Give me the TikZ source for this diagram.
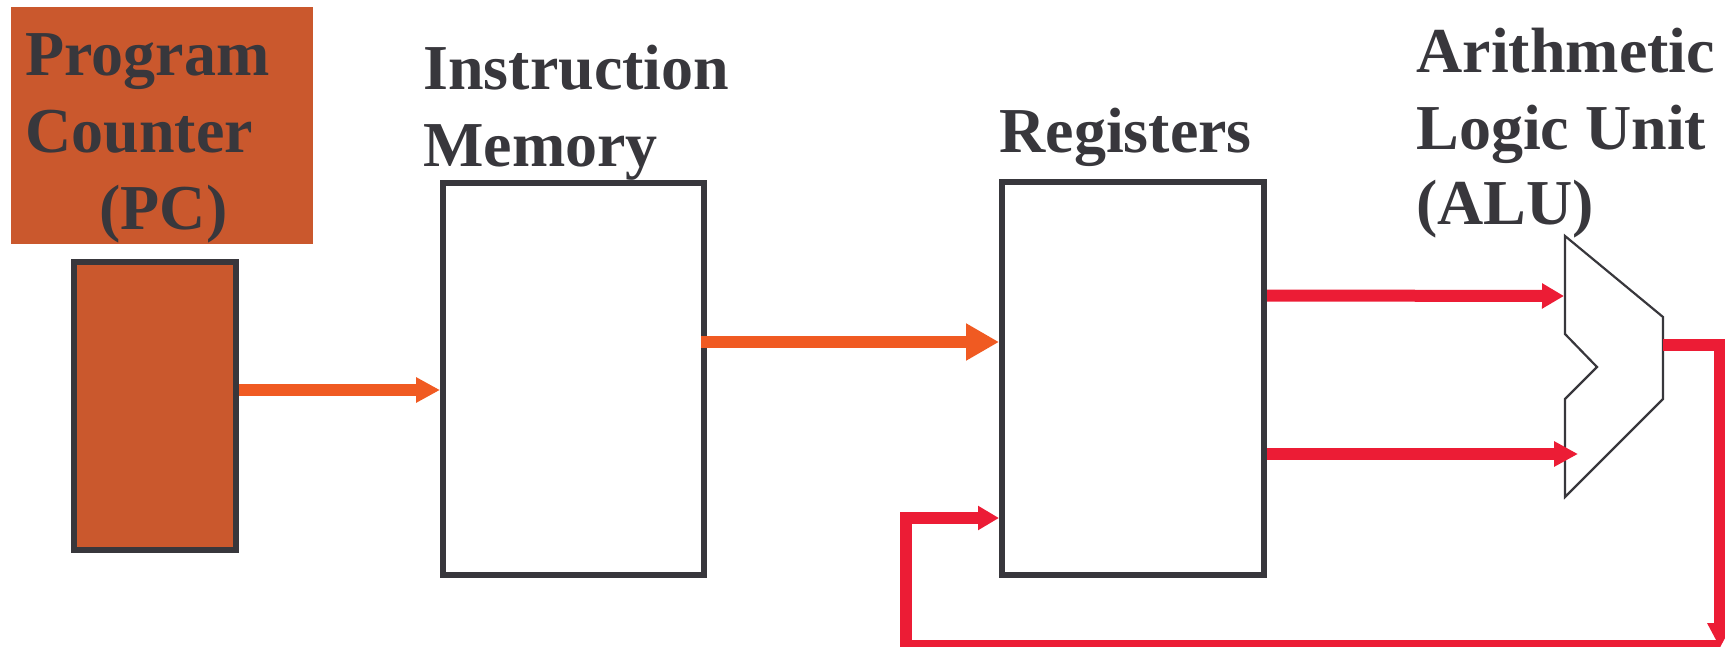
\documentclass[tikz,border=0pt]{standalone}
\usepackage{fontspec}
\setmainfont{Liberation Serif}
\usetikzlibrary{arrows.meta}
\definecolor{ink}{HTML}{38373C}
\definecolor{rust}{HTML}{CA582D}
\definecolor{flow}{HTML}{F05A22}
\definecolor{loopred}{HTML}{EC1C35}
\begin{document}
\begin{tikzpicture}[x=0.5pt,y=-0.5pt,
  lbl/.style={anchor=base west,inner sep=0pt,text=ink,
    font=\fontsize{32}{38}\bfseries\selectfont},
  unitbox/.style={draw=ink,line width=3pt,inner sep=0pt},
  wire/.style={line width=6pt,line join=miter},
  fwd/.style={wire,flow},
  back/.style={wire,loopred}]
\useasboundingbox (0,0) rectangle (1725,647);

% label plate behind the program counter title
\node[fill=rust,inner sep=0pt,minimum width=151pt,minimum height=118.5pt] (pcTag) at (162,125.5) {};
\node[lbl] (tPC1) at (25,76) {Program};
\node[lbl] (tPC2) at (25,153) {Counter};
\node[lbl] (tPC3) at (99,229) {(PC)};

\node[lbl] (tIM1) at (423,90) {Instruction};
\node[lbl] (tIM2) at (423,167) {Memory};
\node[lbl] (tRG) at (999,153) {Registers};
\node[lbl] (tAL1) at (1416,73) {Arithmetic};
\node[lbl] (tAL2) at (1416,149) {Logic Unit};
\node[lbl] (tAL3) at (1416,224) {(ALU)};

% datapath blocks
\node[unitbox,fill=rust,minimum width=81pt,minimum height=144pt] (pc) at (155,406) {};
\node[unitbox,minimum width=130.5pt,minimum height=196pt] (imem) at (573.5,379) {};
\node[unitbox,minimum width=131pt,minimum height=196.5pt] (regs) at (1133,378.5) {};

% ALU outline
\draw[ink,line width=1.1pt,line join=miter] (1565,236) -- (1663,317) -- (1663,399)
  -- (1565,497) -- (1565,399) -- (1597,367) -- (1565,334) -- cycle;
\coordinate (aluInA) at (1564,296);
\coordinate (aluInB) at (1578,454);
\coordinate (aluOut) at (1663,345);
\coordinate (drop) at (1720,648);
\coordinate (sink) at (1720,646);
\coordinate (fbCorner) at (906,646);
\coordinate (fbIn) at ([yshift=-69.75pt]regs.west);

% connectors
\draw[fwd,-{Triangle[length=12pt,width=12pt]}] ([yshift=8pt]pc.east) coordinate (s1) -- (s1 -| imem.west);
\draw[fwd,-{Triangle[length=16.5pt,width=17.5pt]}] ([yshift=18.5pt,xshift=-3pt]imem.east) coordinate (s2) -- (s2 -| regs.west);
\draw[back,-{Triangle[length=11pt,width=12pt]}] ([yshift=41.5pt]regs.east) -- (aluInA);
\draw[back,-{Triangle[length=12pt,width=12pt]}] ([yshift=-37.75pt]regs.east) -- (aluInB);
\draw[back,-{Triangle[length=12.5pt,width=12pt]}] (aluOut) -| (drop);
\draw[back,-{Triangle[length=10.5pt,width=11.5pt]}] (sink) -- (fbCorner) |- (fbIn);
\end{tikzpicture}
\end{document}
